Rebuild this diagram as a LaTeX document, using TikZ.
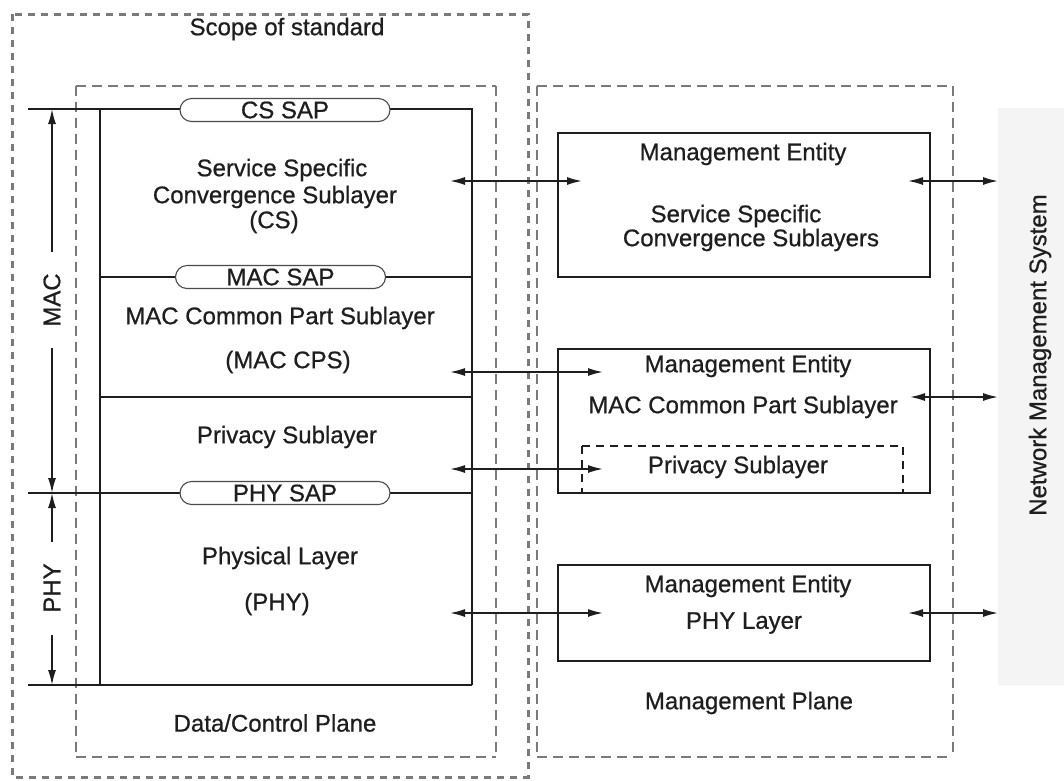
\documentclass[tikz,border=0pt]{standalone}
\usepackage{fontspec}
\setmainfont{Liberation Sans}[FakeBold=0.7]
\usetikzlibrary{arrows.meta}
\definecolor{ink}{HTML}{1E1E1E}
\definecolor{dashgray}{HTML}{7A7A7A}
\definecolor{nmsgray}{HTML}{F4F4F4}
\begin{document}
\begin{tikzpicture}[x=1pt,y=-1pt,
  txt/.style={font=\fontsize{24}{28}\selectfont, inner sep=0pt, text=ink},
  ln/.style={line width=1.8pt, draw=ink},
  scopebox/.style={line width=3pt, draw=dashgray, dash pattern=on 7pt off 6pt},
  dashH/.style={line width=2.4pt, draw=dashgray, dash pattern=on 10pt off 6pt},
  dashV/.style={line width=1.1pt, draw=dashgray, dash pattern=on 10pt off 6pt},
  sap/.style={draw=ink!80, line width=1.1pt, fill=white, rounded corners=11.5pt,
    minimum width=210pt, minimum height=23pt, inner sep=0pt,
    font=\fontsize{24}{28}\selectfont, text=ink},
  mbox/.style={draw=ink, line width=1.9pt, minimum width=372pt, inner sep=0pt},
  arr/.style={line width=1.6pt, draw=ink, -{Latex[length=15pt,width=8pt]}},
  darr/.style={line width=1.6pt, draw=ink, {Latex[length=15pt,width=8pt]}-{Latex[length=15pt,width=8pt]}},
  privbox/.style={draw=ink, line width=1.5pt, dash pattern=on 8pt off 6pt}
]
\useasboundingbox (0,0) rectangle (1064,780);
\fill[white] (0,0) rectangle (1064,780);

% Network Management System panel
\fill[nmsgray] (998,108) rectangle (1064,685);
\node[txt, rotate=90] (nms) at (1040,355) {Network Management System};

% Scope of standard
\draw[scopebox] (12,14) rectangle (528,777);
\node[txt] (scope) at (287,29) {Scope of standard};

% Data/Control plane dashed box
\draw[dashH] (76,86) -- (496,86);
\draw[dashH] (76,757) -- (496,757);
\draw[dashV] (76,86) -- (76,757);
\draw[dashV] (496,86) -- (496,757);
\node[txt] (dcp) at (275,723) {Data/Control Plane};

% Management plane dashed box
\draw[dashH] (537,86) -- (953,86);
\draw[dashH] (537,757) -- (953,757);
\draw[dashV] (537,86) -- (537,757);
\draw[dashV] (953,86) -- (953,757);
\node[txt] (mp) at (749,703) {Management Plane};

% Left protocol stack
\draw[ln] (28,109) -- (472,109) -- (472,685);
\draw[ln] (100,109) -- (100,685);
\draw[ln] (100,277) -- (472,277);
\draw[ln] (100,397) -- (472,397);
\draw[ln] (28,493) -- (472,493);
\draw[ln] (28,685) -- (472,685);

\node[sap] (cssap) at (285,110) {CS SAP};
\node[sap] (macsap) at (280.5,277) {MAC SAP};
\node[sap] (physap) at (285,493) {PHY SAP};

\node[txt] (cs1) at (282,170) {Service Specific};
\node[txt] (cs2) at (275,197) {Convergence Sublayer};
\node[txt] (cs3) at (274,222) {(CS)};
\node[txt] (mac1) at (280,318) {MAC Common Part Sublayer};
\node[txt] (mac2) at (288,362) {(MAC CPS)};
\node[txt] (priv) at (287,437) {Privacy Sublayer};
\node[txt] (phy1) at (280,558) {Physical Layer};
\node[txt] (phy2) at (277,604) {(PHY)};

% MAC / PHY dimension markers
\node[txt, rotate=90] (maclbl) at (52,300) {MAC};
\node[txt, rotate=90] (phylbl) at (52,588) {PHY};
\coordinate (macA) at (52,252);
\coordinate (macTop) at (52,109);
\coordinate (macB) at (52,348);
\coordinate (macBot) at (52,493);
\coordinate (phyA) at (52,542);
\coordinate (phyTop) at (52,493);
\coordinate (phyB) at (52,635);
\coordinate (phyBot) at (52,685);
\draw[arr] (macA) -- (macTop);
\draw[arr] (macB) -- (macBot);
\draw[arr] (phyA) -- (phyTop);
\draw[arr] (phyB) -- (phyBot);

% Management entity boxes
\node[mbox, minimum height=144pt] (me1) at (744,205) {};
\node[mbox, minimum height=144pt] (me2) at (744,421) {};
\node[mbox, minimum height=96pt] (me3) at (744,613) {};
\draw[privbox] (582,446) rectangle (903,493);

\node[txt] (me1a) at (743,154) {Management Entity};
\node[txt] (me1b) at (736,216) {Service Specific};
\node[txt] (me1c) at (751,240) {Convergence Sublayers};
\node[txt] (me2a) at (748,366) {Management Entity};
\node[txt] (me2b) at (743,407) {MAC Common Part Sublayer};
\node[txt] (me2c) at (738,467) {Privacy Sublayer};
\node[txt] (me3a) at (748,586) {Management Entity};
\node[txt] (me3b) at (744,623) {PHY Layer};

% Stack <-> management entity arrows
\coordinate (l1) at (450,181);  \coordinate (r1) at (582,181);
\coordinate (l2) at (450,372);  \coordinate (r2) at (603,372);
\coordinate (l3) at (450,469);  \coordinate (r3) at (603,469);
\coordinate (l4) at (450,613);  \coordinate (r4) at (603,613);
\draw[darr] (l1) -- (r1);
\draw[darr] (l2) -- (r2);
\draw[darr] (l3) -- (r3);
\draw[darr] (l4) -- (r4);

% Management entity <-> NMS arrows
\coordinate (m1) at (908,181);  \coordinate (n1) at (998,181);
\coordinate (m2) at (910,397);  \coordinate (n2) at (998,397);
\coordinate (m3) at (908,613);  \coordinate (n3) at (998,613);
\draw[darr] (m1) -- (n1);
\draw[darr] (m2) -- (n2);
\draw[darr] (m3) -- (n3);
\end{tikzpicture}
\end{document}
